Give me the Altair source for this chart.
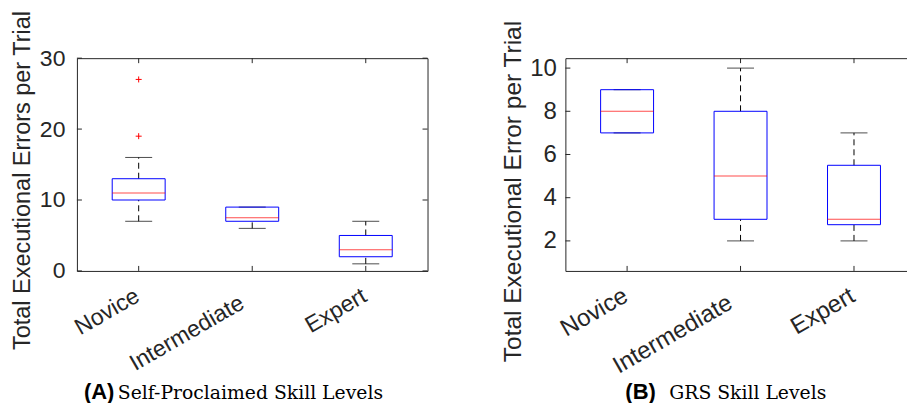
import json
import altair as alt
import pandas as pd

# ---------------- data ----------------
categories = ["Novice", "Intermediate", "Expert"]

# Panel A: self-proclaimed skill levels
a_low = [7, 6, 1]
a_q1 = [10, 7, 2]
a_med = [11, 7.5, 3]
a_q3 = [13, 9, 5]
a_high = [16, 9, 7]
a_out_cat = ["Novice", "Novice"]
a_out_val = [19, 27]
a_yticks = [0, 10, 20, 30]

# Panel B: GRS skill levels
b_low = [7, 2, 2]
b_q1 = [7, 3, 2.75]
b_med = [8, 5, 3]
b_q3 = [9, 8, 5.5]
b_high = [9, 10, 7]
b_out_cat = []
b_out_val = []
b_yticks = [2, 4, 6, 8, 10]

a_ytitle = "Total Executional Errors per Trial"
b_ytitle = "Total Executional Error per Trial"
tags = ["(A)", "(B)"]
captions = ["Self-Proclaimed Skill Levels", "GRS Skill Levels"]

# ---------------- style ----------------
INK = "#262626"
SANS = "Liberation Sans"
SERIF = "DejaVu Serif"
PLUS = "M-1,0L1,0M0,-1L0,1"
H = 213


def panel(low, q1, med, q3, high, out_cat, out_val, yticks, ydomain, width,
          xdomain, ytitle, tag, caption, fs, title_fs, title_x, title_y,
          label_pad, right_axis, tag_x, cap_x):
    pos = [categories.index(c) + 1 for c in categories]
    df = pd.DataFrame({"cat": categories, "pos": pos, "low": low, "q1": q1,
                       "med": med, "q3": q3, "high": high})
    xs = alt.Scale(domain=xdomain, nice=False, zero=False)
    ys = alt.Scale(domain=ydomain, nice=False, zero=False)
    label_expr = f"{json.dumps(categories)}[datum.value - 1]"
    mid_test = f"datum.value == {categories.index('Intermediate') + 1}"
    xaxis = alt.Axis(values=pos, labelExpr=label_expr, labelAngle=330,
                     labelAlign="right", labelBaseline="alphabetic",
                     labelPadding={"condition": {"test": mid_test, "value": 36}, "value": 29},
                     labelOffset={"condition": {"test": mid_test, "value": -7}, "value": 2},
                     labelFontSize=fs, labelColor=INK, labelFont=SANS,
                     ticks=False, domainColor=INK, grid=False, title=None,
                     labelOverlap=False, labelFlush=False)
    yaxis = alt.Axis(values=yticks, ticks=False, grid=False, labelFontSize=fs,
                     labelFont=SANS, labelColor=INK, labelPadding=label_pad,
                     domainColor=INK, title=ytitle, titleFontSize=title_fs,
                     titleFont=SANS, titleFontWeight="normal", titleColor=INK,
                     titleX=title_x, titleY=title_y, titleBaseline="top",
                     titleAngle=270, titleAlign="center")
    xN = alt.X("pos:Q", scale=xs, axis=None)
    base = alt.Chart(df)

    whisk_up = base.mark_rule(color="black", strokeDash=[6, 4], strokeWidth=1).encode(
        x=xN, y=alt.Y("q3:Q", scale=ys, axis=None), y2="high:Q")
    whisk_dn = base.mark_rule(color="black", strokeDash=[6, 4], strokeWidth=1).encode(
        x=xN, y=alt.Y("low:Q", scale=ys, axis=None), y2="q1:Q")
    cap_hi = base.mark_tick(orient="horizontal", color="black", size=27, thickness=1).encode(
        x=xN, y=alt.Y("high:Q", scale=ys, axis=None))
    cap_lo = base.mark_tick(orient="horizontal", color="black", size=27, thickness=1).encode(
        x=xN, y=alt.Y("low:Q", scale=ys, axis=None))
    box = base.mark_bar(fillOpacity=0, stroke="#0000FF", strokeWidth=1, size=53).encode(
        x=alt.X("pos:Q", scale=xs, axis=xaxis),
        y=alt.Y("q1:Q", scale=ys, axis=yaxis), y2="q3:Q")
    med_m = base.mark_tick(orient="horizontal", color="#FF0000", size=53, thickness=1).encode(
        x=xN, y=alt.Y("med:Q", scale=ys, axis=None))

    layers = [whisk_up, whisk_dn, cap_hi, cap_lo, box, med_m]

    if out_val:
        odf = pd.DataFrame({"pos": [categories.index(c) + 1 for c in out_cat],
                            "v": out_val})
        layers.append(alt.Chart(odf).mark_point(shape=PLUS, size=36, color="#FF0000",
                                                filled=False, strokeWidth=1, opacity=1).encode(
            x=xN, y=alt.Y("v:Q", scale=ys, axis=None)))

    yt = pd.DataFrame({"v": yticks})
    xt = pd.DataFrame({"p": pos})
    layers.append(alt.Chart(yt).mark_rule(color=INK, strokeWidth=1).encode(
        y=alt.Y("v:Q", scale=ys, axis=None), x=alt.value(0), x2=alt.value(5)))
    if right_axis:
        layers.append(alt.Chart(yt).mark_rule(color=INK, strokeWidth=1).encode(
            y=alt.Y("v:Q", scale=ys,
                    axis=alt.Axis(orient="right", labels=False, ticks=False, grid=False,
                                  domainColor=INK, title=None)),
            x=alt.value(width - 5), x2=alt.value(width)))
    layers.append(alt.Chart(xt).mark_rule(color=INK, strokeWidth=1).encode(
        x=alt.X("p:Q", scale=xs, axis=None), y=alt.value(H - 5), y2=alt.value(H)))
    layers.append(alt.Chart(xt).mark_rule(color=INK, strokeWidth=1).encode(
        x=alt.X("p:Q", scale=xs,
                axis=alt.Axis(orient="top", labels=False, ticks=False, grid=False,
                              domainColor=INK, title=None)),
        y=alt.value(0), y2=alt.value(5)))

    layers.append(alt.Chart(pd.DataFrame({"t": [tag]})).mark_text(
        align="left", baseline="alphabetic", font=SANS, fontWeight="bold",
        fontSize=22, color="black").encode(
        text="t:N", x=alt.value(tag_x), y=alt.value(341)))
    layers.append(alt.Chart(pd.DataFrame({"t": [caption]})).mark_text(
        align="left", baseline="alphabetic", font=SERIF, fontSize=18.8,
        color="black").encode(
        text="t:N", x=alt.value(cap_x), y=alt.value(341)))

    return alt.layer(*layers).resolve_axis(x="independent", y="independent").properties(
        width=width, height=H)


left = panel(a_low, a_q1, a_med, a_q3, a_high, a_out_cat, a_out_val, a_yticks,
             [0, 30], 351, [0.5, 3.5], a_ytitle, tags[0], captions[0], 23, 23.5,
             -66, 122, 12, True, 7, 41)
right = panel(b_low, b_q1, b_med, b_q3, b_high, b_out_cat, b_out_val, b_yticks,
              [0.61, 10.46], 342, [0.5, 3.5 - 9 / 117.3], b_ytitle, tags[1],
              captions[1], 24, 24.5, -64, 133, 9, False, 60, 104)

chart = alt.hconcat(left, right, spacing=71).properties(
    padding={"left": 10, "top": 9, "right": 0, "bottom": 0},
    background="white",
).configure_view(stroke=None)

chart.save("out.html", embed_options={"renderer": "svg", "actions": False})
